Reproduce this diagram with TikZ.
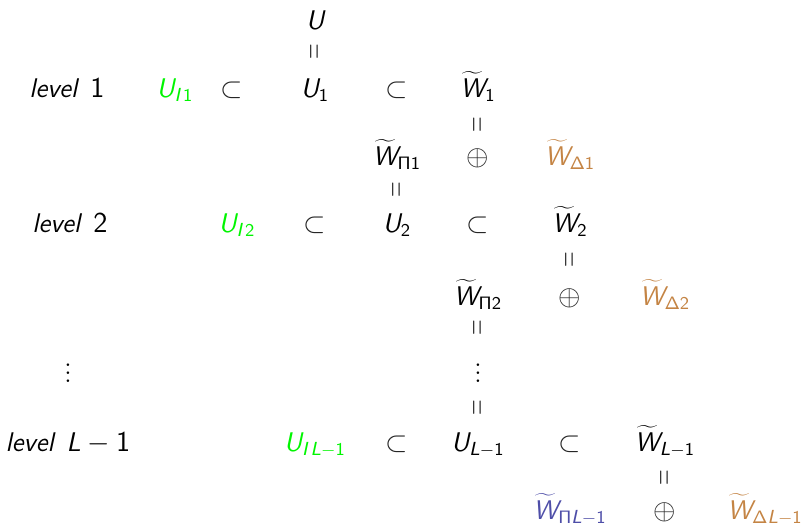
\documentclass[tikz,border=0pt]{standalone}
\DeclareSymbolFont{operators}{OT1}{cmss}{m}{n}
\DeclareSymbolFont{letters}{TU}{lmss}{m}{sl}
\definecolor{gI}{RGB}{0,245,0}
\definecolor{dlt}{RGB}{196,132,68}
\definecolor{pil}{RGB}{78,78,168}
\definecolor{eqc}{RGB}{55,55,55}
\newcommand\vq{\rotatebox{90}{\resizebox{7.8pt}{6pt}{$=$}}}
\newcommand\lvsp{\hspace{6.5pt}}
\tikzset{
  lbl/.style={anchor=base,inner sep=0pt,font=\fontsize{13.5}{16}\selectfont},
  eqv/.style={inner sep=0pt,text=eqc},
  opr/.style={lbl,text=black!85}
}
\begin{document}
\begin{tikzpicture}[x=0.5pt,y=-0.5pt]
\useasboundingbox (0,0) rectangle (806,525);
% top
\node[lbl] (U) at (315,29) {$U$};
\node[eqv] (e0) at (316,52) {\vq};
% row 1
\node[lbl] (lv1) at (67,97) {$level\lvsp 1$};
\node[lbl,text=gI] (UI1) at (175,97) {$U_{I\,1}$};
\node[opr] (s11) at (232,97) {$\subset$};
\node[lbl] (U1) at (315,97) {$U_1$};
\node[opr] (s12) at (397,97) {$\subset$};
\node[lbl] (W1) at (478,97) {$\widetilde{W}_1$};
\node[eqv] (e1) at (479,125) {\vq};
% row 1.5
\node[lbl] (WP1) at (397,165) {$\widetilde{W}_{\Pi 1}$};
\node[opr] (o1) at (478,165) {$\oplus$};
\node[lbl,text=dlt] (WD1) at (570,165) {$\widetilde{W}_{\Delta 1}$};
\node[eqv] (e2) at (398,190) {\vq};
% row 2
\node[lbl] (lv2) at (70,232) {$level\lvsp 2$};
\node[lbl,text=gI] (UI2) at (237,232) {$U_{I\,2}$};
\node[opr] (s21) at (315,232) {$\subset$};
\node[lbl] (U2) at (397,232) {$U_2$};
\node[opr] (s22) at (478,232) {$\subset$};
\node[lbl] (W2) at (570,232) {$\widetilde{W}_2$};
\node[eqv] (e3) at (571,260) {\vq};
% row 2.5
\node[lbl] (WP2) at (478,305) {$\widetilde{W}_{\Pi 2}$};
\node[opr] (o2) at (570,305) {$\oplus$};
\node[lbl,text=dlt] (WD2) at (665,305) {$\widetilde{W}_{\Delta 2}$};
\node[eqv] (e4) at (479,328) {\vq};
% dots
\node[lbl] (vd1) at (68,382) {$\vdots$};
\node[lbl] (vd2) at (478,382) {$\vdots$};
\node[eqv] (e5) at (479,408) {\vq};
% row 3
\node[lbl] (lv3) at (68,451) {$level\lvsp L-1$};
\node[lbl,text=gI] (UI3) at (315,451) {$U_{I\,L-1}$};
\node[opr] (s31) at (397,451) {$\subset$};
\node[lbl] (U3) at (478,451) {$U_{L-1}$};
\node[opr] (s32) at (570,451) {$\subset$};
\node[lbl] (W3) at (665,451) {$\widetilde{W}_{L-1}$};
\node[eqv] (e6) at (666,478) {\vq};
% row 3.5
\node[lbl,text=pil] (WP3) at (570,519) {$\widetilde{W}_{\Pi L-1}$};
\node[opr] (o3) at (665,519) {$\oplus$};
\node[lbl,text=dlt] (WD3) at (765,519) {$\widetilde{W}_{\Delta L-1}$};
\end{tikzpicture}
\end{document}
